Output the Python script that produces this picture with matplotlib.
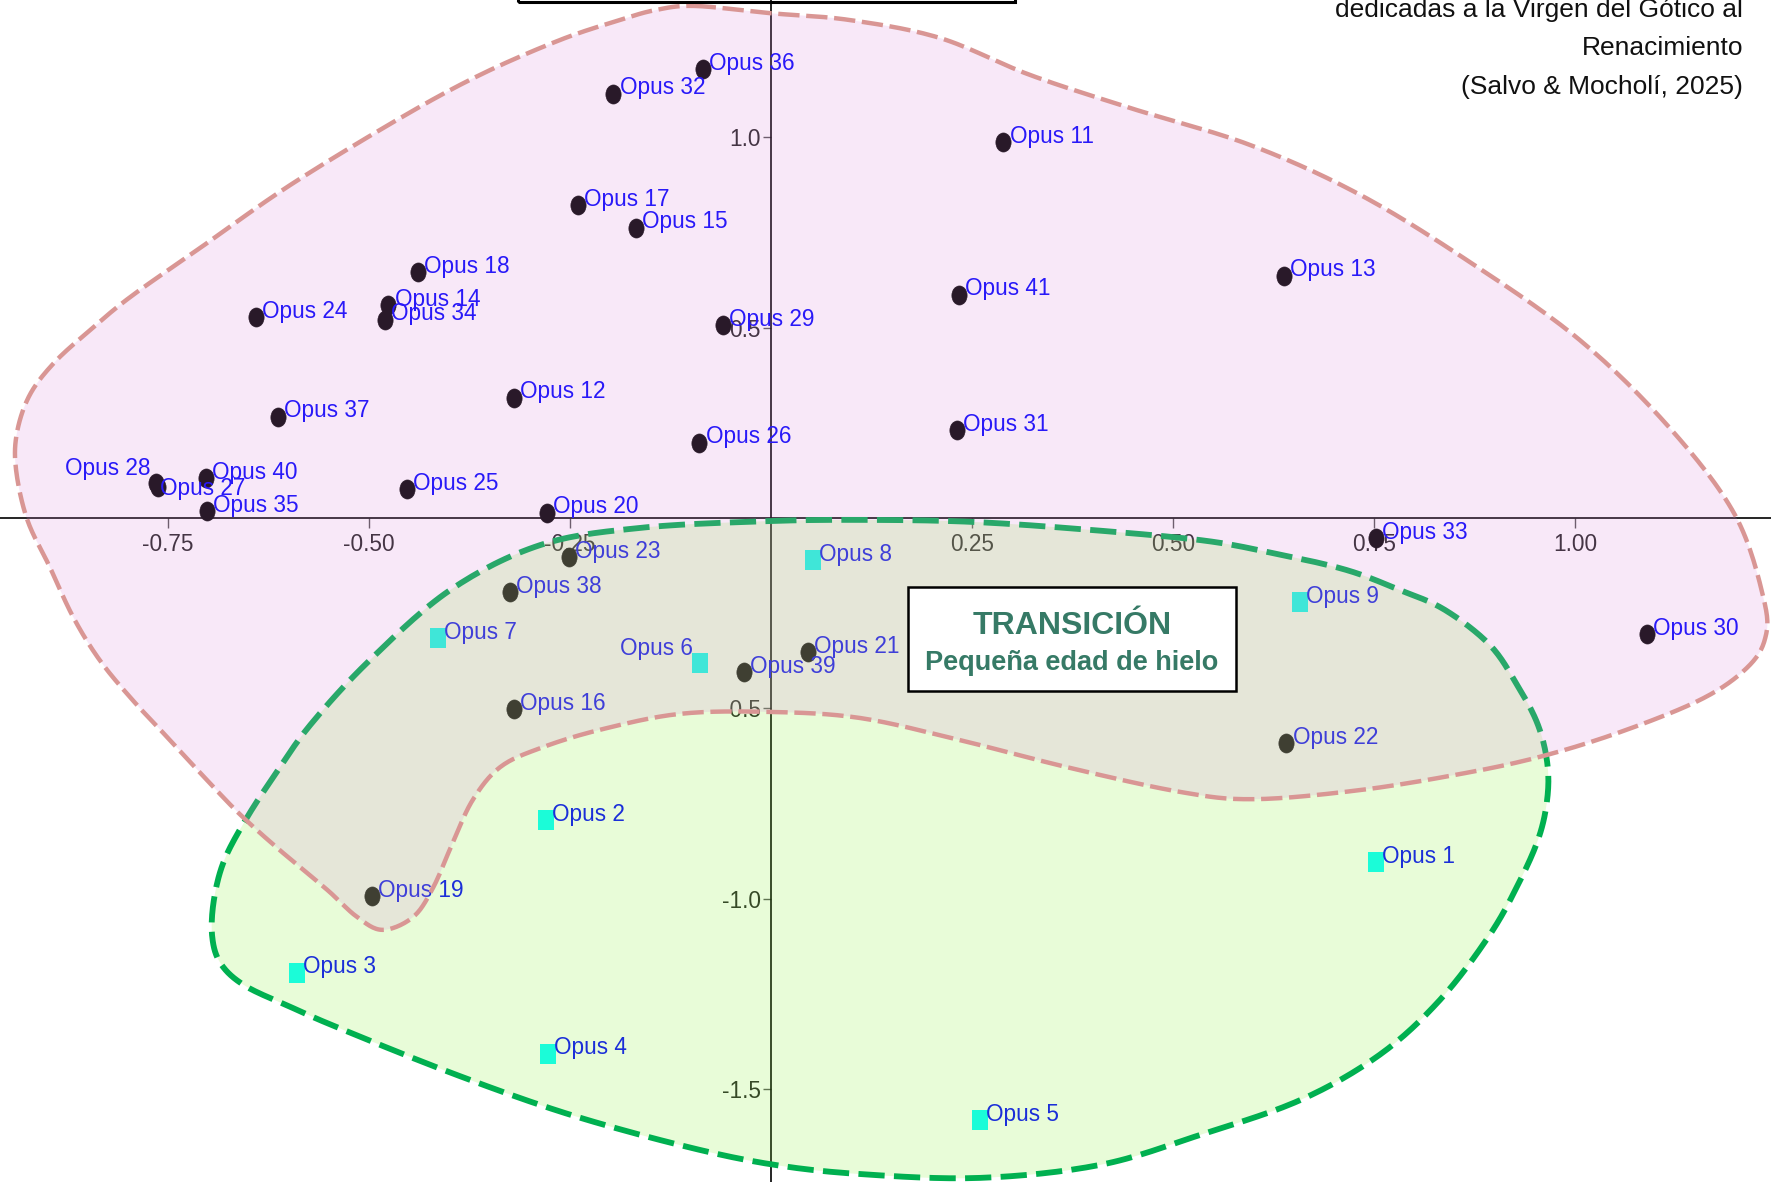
import numpy as np
import matplotlib
matplotlib.use("Agg")
import matplotlib.pyplot as plt
import matplotlib.font_manager as fm
from matplotlib.patches import Polygon, Rectangle
from matplotlib.path import Path
from matplotlib.transforms import Affine2D
from matplotlib.markers import MarkerStyle

# --- datos: coordenadas de las obras (circulos = Gotico, cuadrados = Renacimiento)
circ_names = ["Opus 36", "Opus 32", "Opus 11", "Opus 17", "Opus 15", "Opus 18",
              "Opus 14", "Opus 34", "Opus 24", "Opus 13", "Opus 41", "Opus 29",
              "Opus 12", "Opus 37", "Opus 26", "Opus 31", "Opus 28", "Opus 27",
              "Opus 40", "Opus 35", "Opus 25", "Opus 20", "Opus 33", "Opus 30",
              "Opus 23", "Opus 38", "Opus 16", "Opus 39", "Opus 21", "Opus 22",
              "Opus 19"]
circ_x = [-0.085, -0.196, 0.289, -0.240, -0.168, -0.439,
          -0.476, -0.480, -0.641, 0.638, 0.234, -0.060,
          -0.320, -0.613, -0.089, 0.231, -0.765, -0.763,
          -0.703, -0.702, -0.453, -0.279, 0.752, 1.089,
          -0.251, -0.325, -0.320, -0.034, 0.046, 0.641,
          -0.496]
circ_y = [1.179, 1.114, 0.987, 0.821, 0.762, 0.645,
          0.559, 0.521, 0.527, 0.636, 0.586, 0.506,
          0.316, 0.266, 0.198, 0.230, 0.092, 0.082,
          0.105, 0.018, 0.076, 0.014, -0.052, -0.304,
          -0.102, -0.194, -0.502, -0.404, -0.352, -0.591,
          -0.992]

sq_names = ["Opus 8", "Opus 9", "Opus 7", "Opus 6", "Opus 2", "Opus 1",
            "Opus 3", "Opus 4", "Opus 5"]
sq_x = [0.052, 0.658, -0.414, -0.088, -0.280, 0.752, -0.590, -0.278, 0.260]
sq_y = [-0.110, -0.221, -0.315, -0.380, -0.793, -0.903, -1.193, -1.406, -1.580]

# contorno del grupo gotico (rosa) y del grupo de transicion/renacimiento (verde)
pink_x = [-0.095, -0.001, 0.098, 0.210, 0.322, 0.447, 0.596, 0.733, 0.869, 1.006,
          1.118, 1.199, 1.235, 1.236, 1.211, 1.155, 1.056, 0.956, 0.857, 0.733,
          0.601, 0.509, 0.372, 0.235, 0.111, -0.001, -0.113, -0.213, -0.287, -0.337,
          -0.371, -0.396, -0.420, -0.445, -0.483, -0.515, -0.552, -0.607, -0.657, -0.698,
          -0.744, -0.794, -0.835, -0.868, -0.897, -0.925, -0.939, -0.938, -0.922, -0.891,
          -0.847, -0.797, -0.710, -0.598, -0.461, -0.362, -0.262, -0.188, -0.144]
pink_y = [1.344, 1.325, 1.307, 1.260, 1.163, 1.076, 0.979, 0.848, 0.672, 0.467,
          0.236, 0.008, -0.215, -0.320, -0.399, -0.478, -0.562, -0.627, -0.672, -0.714,
          -0.738, -0.719, -0.656, -0.583, -0.525, -0.509, -0.514, -0.556, -0.604, -0.654,
          -0.740, -0.853, -0.969, -1.047, -1.081, -1.047, -0.976, -0.879, -0.785, -0.696,
          -0.591, -0.478, -0.373, -0.260, -0.129, -0.005, 0.126, 0.223, 0.323, 0.409,
          0.493, 0.580, 0.709, 0.874, 1.050, 1.163, 1.255, 1.307, 1.333]

green_x = [-0.001, 0.123, 0.248, 0.384, 0.534, 0.624, 0.715, 0.782, 0.838, 0.894,
           0.928, 0.953, 0.965, 0.966, 0.956, 0.932, 0.894, 0.832, 0.757, 0.658,
           0.534, 0.409, 0.260, 0.111, -0.001, -0.113, -0.256, -0.397, -0.537, -0.598,
           -0.654, -0.684, -0.695, -0.693, -0.680, -0.652, -0.619, -0.573, -0.499, -0.399,
           -0.287, -0.163]
green_y = [-0.008, -0.005, -0.010, -0.029, -0.058, -0.092, -0.136, -0.189, -0.241, -0.333,
           -0.438, -0.538, -0.635, -0.727, -0.832, -0.950, -1.094, -1.265, -1.409, -1.528,
           -1.619, -1.698, -1.732, -1.722, -1.696, -1.646, -1.562, -1.457, -1.339, -1.283,
           -1.228, -1.171, -1.100, -1.003, -0.898, -0.787, -0.680, -0.543, -0.373, -0.189,
           -0.071, -0.026]

xticks = [-0.75, -0.50, -0.25, 0.25, 0.50, 0.75, 1.00]
xtick_labels = ["-0.75", "-0.50", "-0.25", "0.25", "0.50", "0.75", "1.00"]
yticks = [1.0, 0.5, -0.5, -1.0, -1.5]
ytick_labels = ["1.0", "0.5", "-0.5", "-1.0", "-1.5"]

# etiquetas que no van a la derecha del punto
special = {"Opus 28": (-4, 6, "right"), "Opus 27": (1.5, -6, "left"),
           "Opus 6": (-5, 5.5, "right")}

# --- fuentes (Arial estrecha si existe, si no Liberation Sans)
available = {f.name for f in fm.fontManager.ttflist}
if "Liberation Sans Narrow" in available:
    fam, k = "Liberation Sans Narrow", 1.15
else:
    fam = "Liberation Sans" if "Liberation Sans" in available else "DejaVu Sans"
    k = 1.0
wide = "Liberation Sans" if "Liberation Sans" in available else "DejaVu Sans"
lab_size = 16.3 * k


def smooth_closed(xs, ys, n=16):
    pts = np.column_stack([xs, ys])
    P = np.vstack([pts[-1], pts, pts[0], pts[1]])
    t = np.linspace(0, 1, n, endpoint=False)[:, None]
    out = []
    for i in range(1, len(pts) + 1):
        p0, p1, p2, p3 = P[i - 1], P[i], P[i + 1], P[i + 2]
        out.append(0.5 * (2 * p1 + (-p0 + p2) * t
                          + (2 * p0 - 5 * p1 + 4 * p2 - p3) * t ** 2
                          + (-p0 + 3 * p1 - 3 * p2 + p3) * t ** 3))
    out = np.vstack(out)
    return np.vstack([out, out[:1]])


fig = plt.figure(figsize=(17.71, 11.82), dpi=100, facecolor="white")
ax = fig.add_axes([0, 0, 1, 1])
ax.set_xlim(-0.959, 1.2438)
ax.set_ylim(-1.7428, 1.3596)

for s in ["top", "right"]:
    ax.spines[s].set_visible(False)
ax.spines["left"].set_position(("data", 0))
ax.spines["bottom"].set_position(("data", 0))
ax.spines["left"].set_linewidth(1.2)
ax.spines["bottom"].set_linewidth(1.2)

ax.set_xticks(xticks)
ax.set_xticklabels(xtick_labels)
ax.set_yticks(yticks)
ax.set_yticklabels(ytick_labels)
ax.tick_params(axis="x", direction="out", length=7, width=1, color="#555555",
               pad=4, labelsize=lab_size, labelcolor="#222222")
ax.tick_params(axis="y", direction="out", length=5.5, width=1, color="#555555",
               pad=2, labelsize=lab_size, labelcolor="#222222")
for lab in ax.get_xticklabels() + ax.get_yticklabels():
    lab.set_family(fam)

# marcadores algo mas altos que anchos, como en la figura original
ell = MarkerStyle(Path.unit_circle().transformed(Affine2D().scale(0.8, 1.0)))
sq_path = Path([(-1, -1), (1, -1), (1, 1), (-1, 1), (-1, -1)], closed=True)
sq = MarkerStyle(sq_path.transformed(Affine2D().scale(0.79, 1.0)))

ax.plot(circ_x, circ_y, ls="none", marker=ell, ms=13.7, mfc="black",
        mec="black", mew=0.5, zorder=3)
ax.plot(sq_x, sq_y, ls="none", marker=sq, ms=13.7, mfc="#00FFFF",
        mec="#00FFFF", mew=0, zorder=3)

for names, xs, ys in [(circ_names, circ_x, circ_y), (sq_names, sq_x, sq_y)]:
    for name, x, y in zip(names, xs, ys):
        dx, dy, ha = special.get(name, (4.5, -0.5, "left"))
        ax.annotate(name, (x, y), xytext=(dx, dy), textcoords="offset points",
                    ha=ha, va="baseline", color="#0000FF", fontsize=lab_size,
                    family=fam, zorder=4)

# regiones
g = smooth_closed(green_x, green_y)
p = smooth_closed(pink_x, pink_y)
ax.add_patch(Polygon(g, closed=True, fc=(138/255, 240/255, 61/255), alpha=0.196,
                     ec="none", zorder=10))
ax.plot(g[:, 0], g[:, 1], color="#00B050", lw=4.2, dashes=(4.5, 1.6), zorder=10.5)
ax.add_patch(Polygon(p, closed=True, fc=(221/255, 137/255, 221/255), alpha=0.19,
                     ec="none", zorder=11))
ax.plot(p[:, 0], p[:, 1], color="#D99694", lw=3.2, dashes=(4.8, 1.5), zorder=12)

# recuadro de la transicion
ax.add_patch(Rectangle((0.170, -0.454), 0.408, 0.273, fc="white", ec="black",
                       lw=1.8, zorder=20))
ax.text(0.374, -0.3045, "TRANSICIÓN", ha="center", va="baseline",
        fontsize=23 * k, fontweight="bold", color="#367A66", family=fam, zorder=21)
ax.text(0.374, -0.399, "Pequeña edad de hielo", ha="center", va="baseline",
        fontsize=19.5 * k, fontweight="bold", color="#367A66", family=fam, zorder=21)

# recuadro del titulo (cortado arriba) y texto de la fuente
fig.add_artist(Rectangle((518 / 1771, 1 - 1.5 / 1182), (1015 - 518) / 1771, 0.1,
                         transform=fig.transFigure, fill=False, ec="black",
                         lw=2.2, clip_on=False))
src_lines = ["dedicadas a la Virgen del Gótico al", "Renacimiento",
             "(Salvo & Mocholí, 2025)"]
for line, yb in zip(src_lines, [17, 55, 94]):
    fig.text(1743 / 1771, 1 - yb / 1182, line, ha="right", va="baseline",
             fontsize=19, family=wide, color="#111111")

fig.savefig("out.png", dpi=100, facecolor="white")
